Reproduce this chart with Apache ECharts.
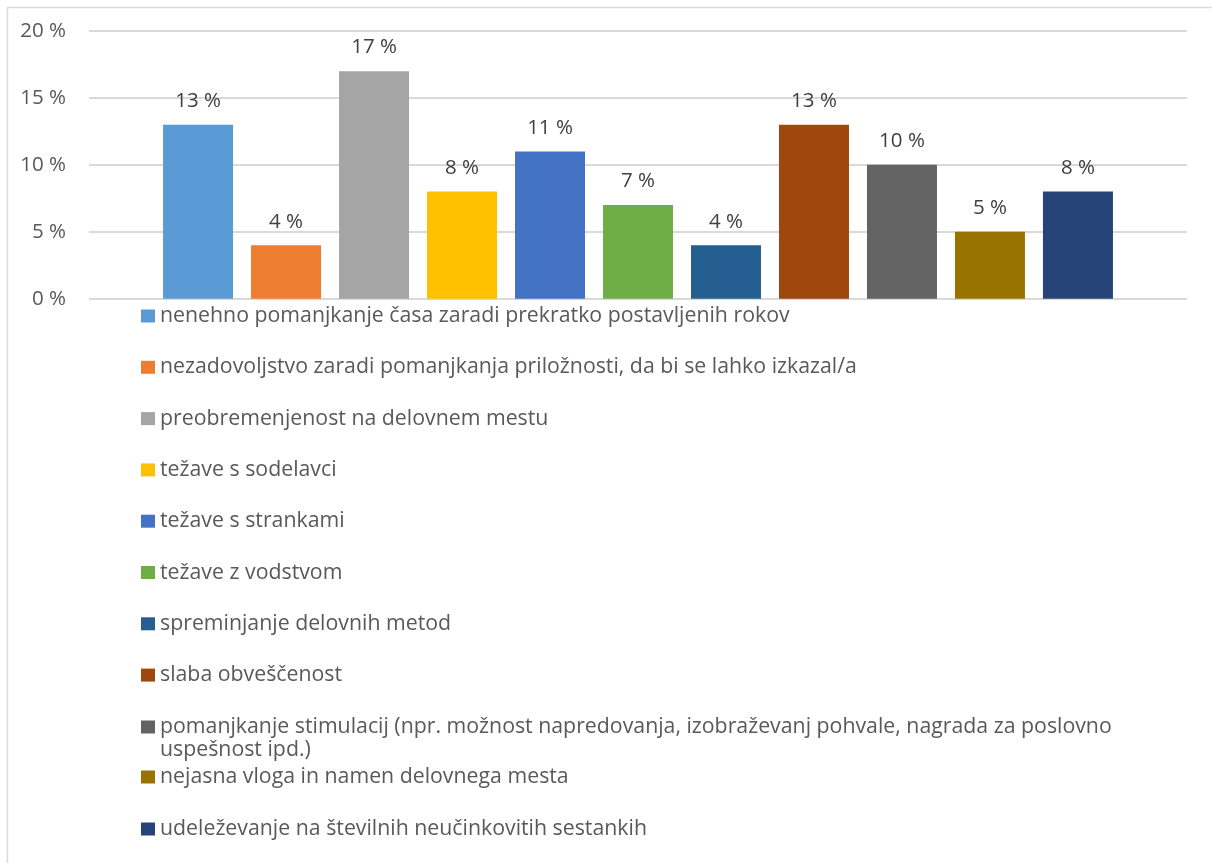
<!DOCTYPE html>
<html>
<head>
<meta charset="utf-8">
<script src="https://cdn.jsdelivr.net/npm/echarts@6/dist/echarts.min.js"></script>
<style>
  html, body { margin: 0; padding: 0; background: #ffffff; }
  #chart { width: 1212px; height: 863px; }
</style>
</head>
<body>
<div id="chart"></div>
<script>
// Causes of stress at work, share of respondents (%)
const causes = [
  'nenehno pomanjkanje časa zaradi prekratko postavljenih rokov',
  'nezadovoljstvo zaradi pomanjkanja priložnosti, da bi se lahko izkazal/a',
  'preobremenjenost na delovnem mestu',
  'težave s sodelavci',
  'težave s strankami',
  'težave z vodstvom',
  'spreminjanje delovnih metod',
  'slaba obveščenost',
  'pomanjkanje stimulacij (npr. možnost napredovanja, izobraževanj pohvale, nagrada za poslovno uspešnost ipd.)',
  'nejasna vloga in namen delovnega mesta',
  'udeleževanje na številnih neučinkovitih sestankih'
];
const shares = [13, 4, 17, 8, 11, 7, 4, 13, 10, 5, 8];
const colors = ['#5B9BD5', '#ED7D31', '#A5A5A5', '#FFC000', '#4472C4', '#70AD47',
                '#255E91', '#9E480E', '#636363', '#997300', '#264478'];
const yTicks = { min: 0, max: 20, step: 5 };

const FONT = '"Open Sans", "Noto Sans", sans-serif';
const FS = 20.5;      // axis and value labels
const LEG_FS = 21.3;  // legend entries
const LH = 23;

const series = causes.map((name, i) => ({
  name: name,
  type: 'bar',
  data: [shares[i]],
  barWidth: 70,
  barGap: '25.7%',
  itemStyle: { color: colors[i] },
  label: {
    show: true,
    position: 'top',
    distance: 13,
    formatter: '{c} %',
    fontFamily: FONT,
    fontSize: FS,
    color: '#404040'
  },
  emphasis: { disabled: true }
}));

const legendBase = {
  orient: 'vertical',
  left: 141,
  padding: 0,
  itemWidth: 14,
  itemHeight: 13,
  itemGap: 28.3,
  icon: 'rect',
  selectedMode: false,
  textStyle: { fontFamily: FONT, fontSize: LEG_FS, color: '#595959', lineHeight: LH }
};

const chart = echarts.init(document.getElementById('chart'), null, { renderer: 'canvas' });
chart.setOption({
  animation: false,
  backgroundColor: '#ffffff',
  textStyle: { fontFamily: FONT },
  graphic: [{
    type: 'rect',
    shape: { x: 7.5, y: 7.5, width: 1230, height: 900 },
    style: { fill: 'none', stroke: '#d9d9d9', lineWidth: 1.5 },
    silent: true
  }],
  grid: { left: 89, right: 25, top: 31, bottom: 564.3, containLabel: false },
  xAxis: {
    type: 'category',
    data: [''],
    axisLine: { show: false },
    axisTick: { show: false },
    axisLabel: { show: false }
  },
  yAxis: {
    type: 'value',
    min: yTicks.min,
    max: yTicks.max,
    interval: yTicks.step,
    axisLine: { show: false },
    axisTick: { show: false },
    axisLabel: {
      formatter: '{value} %',
      margin: 23,
      fontFamily: FONT,
      fontSize: FS,
      color: '#595959'
    },
    splitLine: { lineStyle: { color: '#d9d9d9', width: 2 } }
  },
  legend: [
    Object.assign({}, legendBase, { top: 304.5, data: causes.slice(0, 8) }),
    // long entry: wraps onto a second line, first line level with its swatch
    Object.assign({}, legendBase, {
      top: 727 - LH * 1.5,
      formatter: name => '\n' + name,
      data: [{
        name: causes[8],
        textStyle: { width: 1000, overflow: 'break' }
      }]
    }),
    Object.assign({}, legendBase, { top: 765.5, itemGap: 29, data: causes.slice(9) })
  ],
  series: series
});
</script>
</body>
</html>
